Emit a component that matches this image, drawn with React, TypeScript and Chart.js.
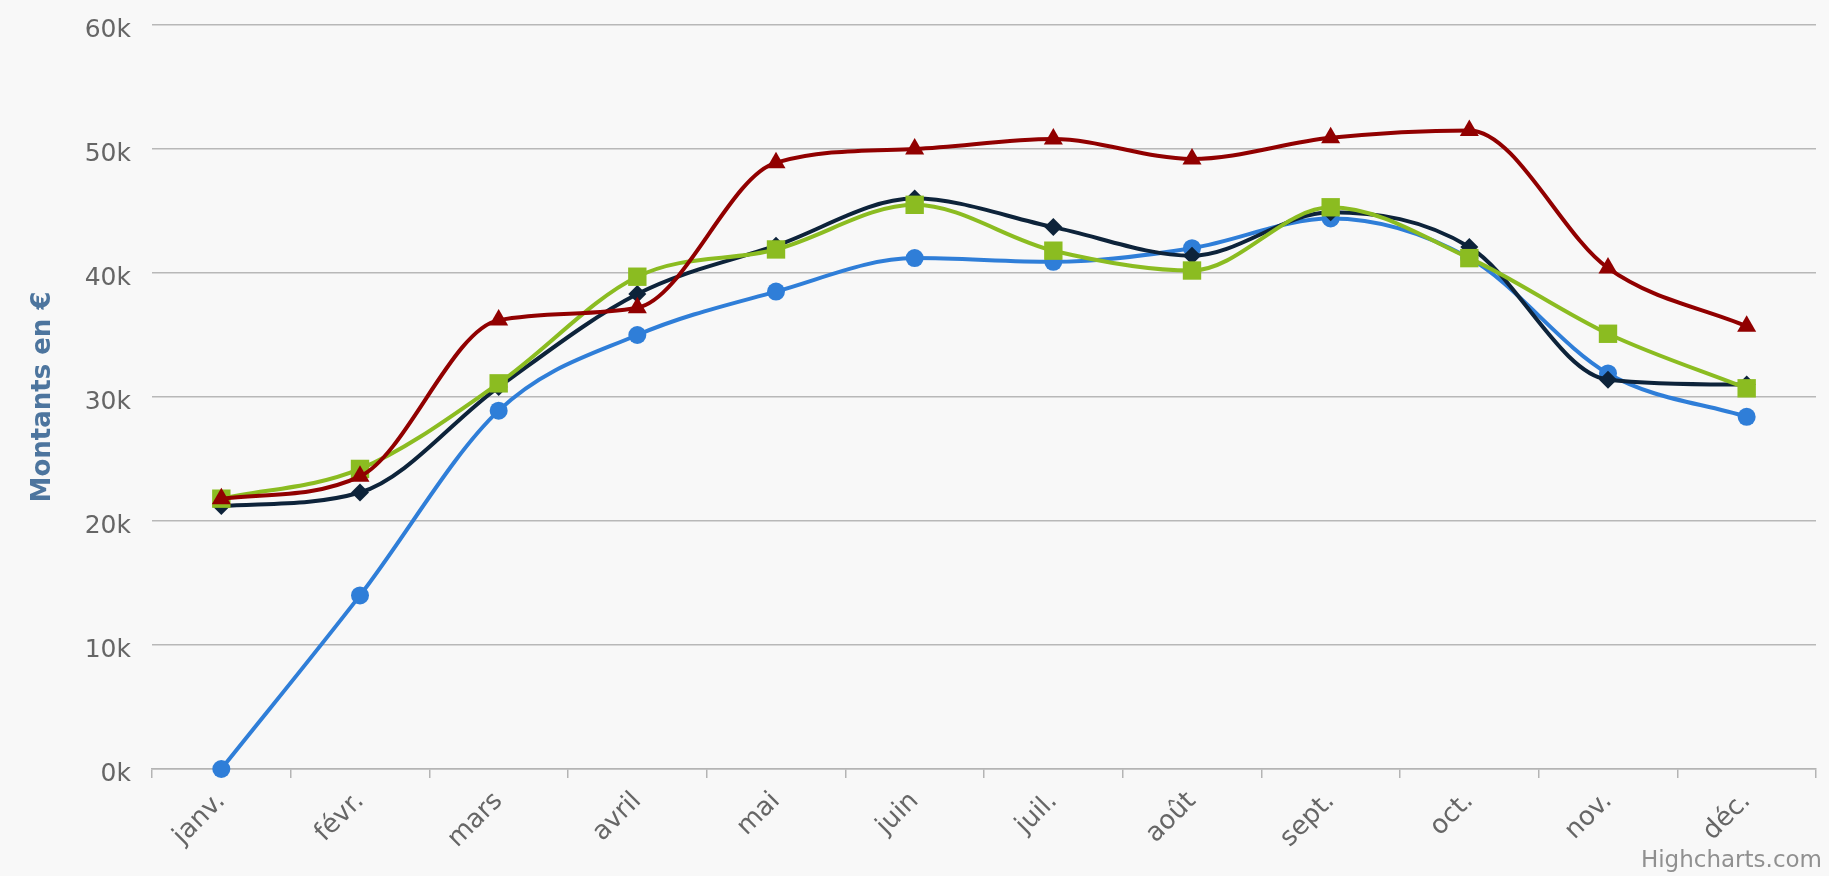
import React, { useEffect, useRef } from "react";
import { Chart, registerables } from "chart.js";

Chart.register(...registerables);

const months = ["janv.", "févr.", "mars", "avril", "mai", "juin", "juil.", "août", "sept.", "oct.", "nov.", "déc."];
const seriesBlue = [0, 14000, 28900, 35000, 38500, 41200, 40900, 42000, 44400, 41200, 31900, 28400];
const seriesNavy = [21200, 22300, 30800, 38300, 42200, 46000, 43700, 41400, 44900, 42100, 31400, 31000];
const seriesGreen = [21800, 24200, 31100, 39700, 41900, 45500, 41800, 40200, 45300, 41200, 35100, 30700];
const seriesRed = [21800, 23600, 36200, 37200, 48900, 50000, 50800, 49200, 50900, 51500, 40400, 35700];
const yTicks = [0, 10000, 20000, 30000, 40000, 50000, 60000];
const creditText = "Highcharts.com";

const FONT = "'DejaVu Sans', Verdana, sans-serif";

const creditPlugin = {
  id: "credit",
  afterDraw(chart: any) {
    const ctx = chart.ctx;
    ctx.save();
    ctx.font = `23px ${FONT}`;
    ctx.fillStyle = "#909090";
    ctx.textAlign = "right";
    ctx.textBaseline = "alphabetic";
    ctx.fillText(creditText, chart.width - 7, 867);
    ctx.restore();
  },
};

const bgPlugin = {
  id: "bg",
  beforeDraw(chart: any) {
    const ctx = chart.ctx;
    ctx.save();
    ctx.fillStyle = "#f8f8f8";
    ctx.fillRect(0, 0, chart.width, chart.height);
    ctx.restore();
  },
};

export default function App() {
  const ref = useRef<HTMLCanvasElement | null>(null);

  useEffect(() => {
    document.body.style.margin = "0";
    const canvas = ref.current;
    if (!canvas) return;
    const mk = (data: number[], color: string, style: any, radius: number, order: number) => ({
      data,
      borderColor: color,
      backgroundColor: color,
      pointBackgroundColor: color,
      pointBorderColor: color,
      pointBorderWidth: 0,
      pointStyle: style,
      pointRadius: radius,
      borderWidth: 4,
      cubicInterpolationMode: "monotone" as const,
      clip: false as any,
      order,
    });
    const chart = new Chart(canvas, {
      type: "line",
      data: {
        labels: months,
        datasets: [
          mk(seriesBlue, "#2f7ed8", "circle", 9, 3),
          mk(seriesNavy, "#0d233a", "rectRot", 9, 2),
          mk(seriesGreen, "#8bbc21", "rect", 13, 1),
          mk(seriesRed, "#910000", "triangle", 11, 0),
        ],
      },
      plugins: [bgPlugin, creditPlugin],
      options: {
        animation: false,
        responsive: false,
        devicePixelRatio: 1,
        layout: { padding: { top: 25, right: 10, bottom: 0, left: 0 } },
        plugins: { legend: { display: false }, tooltip: { enabled: false } },
        scales: {
          x: {
            type: "category",
            offset: true,
            grid: {
              offset: true,
              drawOnChartArea: false,
              drawTicks: true,
              tickLength: 9,
              color: "#b4b4b4",
              lineWidth: 1.5,
            },
            border: { display: true, color: "#b4b4b4", width: 1.5 },
            ticks: {
              minRotation: 45,
              maxRotation: 45,
              autoSkip: false,
              padding: 8,
              color: "#666666",
              font: { family: FONT, size: 26 },
            },
            afterFit: (s: any) => {
              s.height = 107;
              s.paddingRight = 0;
            },
          },
          y: {
            min: 0,
            max: 60000,
            afterBuildTicks: (s: any) => {
              s.ticks = yTicks.map((v) => ({ value: v }));
            },
            grid: { color: "#b8b8b8", lineWidth: 1.5, drawTicks: false },
            border: { display: false },
            ticks: {
              padding: 21,
              labelOffset: 5,
              color: "#666666",
              font: { family: FONT, size: 25 },
              callback: (v: any) => Number(v) / 1000 + "k",
            },
            title: {
              display: true,
              text: "Montants en €",
              color: "#4d759e",
              font: { family: FONT, size: 26, weight: "bold" },
              padding: { top: 28, bottom: 0 },
            },
            afterFit: (s: any) => {
              s.width = 152;
              s.paddingTop = 0;
              s.paddingBottom = 0;
            },
          },
        },
      },
    });
    return () => chart.destroy();
  }, []);

  return (
    <div style={{ width: 1829, height: 876, background: "#f8f8f8", overflow: "hidden" }}>
      <canvas ref={ref} width={1829} height={876} style={{ display: "block" }} />
    </div>
  );
}
